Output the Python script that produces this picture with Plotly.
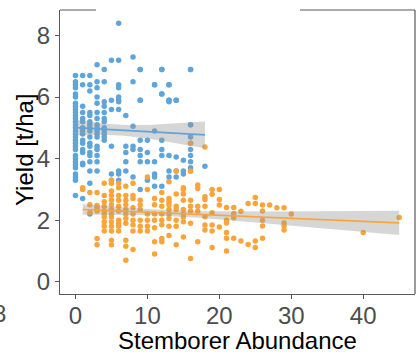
import numpy as np
import plotly.graph_objects as go

# ---- data ----
blue_cols = {
    0: [6.7, 6.5, 6.4, 6.3, 6.1, 6.0, 5.8, 5.7, 5.6, 5.5, 5.4, 5.3, 5.2, 5.1, 5.0, 4.9, 4.8, 4.7, 4.6, 4.5, 4.4, 4.3, 4.1, 4.0, 3.9, 3.8, 3.7, 3.5, 3.4, 3.3, 2.8],
    1: [6.7, 6.4, 5.7, 5.5, 5.3, 5.2, 5.0, 4.9, 4.8, 4.6, 4.5, 4.3, 4.2, 3.85, 3.8, 2.7],
    2: [6.7, 6.4, 6.2, 5.5, 5.4, 5.2, 5.1, 5.0, 4.9, 4.7, 4.5, 4.4, 4.2, 4.1, 3.9, 3.6, 3.2, 2.2],
    3: [7.05, 6.5, 6.3, 6.0, 5.8, 5.5, 5.3, 5.1, 5.0, 4.9, 4.8, 4.7, 4.4, 4.3, 4.1, 3.9, 3.6],
    4: [6.9, 6.5, 5.85, 5.7, 5.5, 5.3, 5.2, 5.0, 4.9, 4.8, 4.7, 4.6],
    5: [7.2, 5.9, 5.6, 4.4, 3.5, 3.3],
    6: [8.4, 7.2, 6.4, 6.3, 6.0, 5.9, 5.85, 5.6, 3.6, 3.5, 3.3],
    7: [5.4, 4.4, 4.2, 3.9, 3.6],
    8: [7.3, 6.5, 5.05, 4.4, 4.3, 3.4],
    9: [6.9, 6.9, 5.9, 5.9, 4.6, 4.3, 4.1, 3.9, 3.0],
    10: [4.6, 4.2, 3.9, 3.3],
    11: [6.4, 6.4, 4.9, 3.9, 3.5, 3.4, 3.1],
    12: [6.9, 6.9, 6.1, 6.1, 4.6, 4.3, 4.1, 3.1],
    13: [6.4, 6.4, 5.9, 5.9, 5.85, 4.1, 3.6, 3.4],
    14: [5.9, 5.9, 4.05, 3.6, 3.4],
    15: [3.95, 3.6, 3.5],
    16: [6.9, 6.9, 5.1, 5.1, 4.7, 4.5, 4.3, 4.1, 3.9, 3.7, 3.6],
    18: [3.75],
}
orange_cols = {
    1: [3.05, 3.0],
    2: [2.9, 2.5, 2.25],
    3: [2.9, 2.48, 2.4, 2.3, 1.4, 1.2],
    4: [3.2, 2.8, 2.6, 2.45, 2.3, 2.2, 2.1, 1.95, 1.8, 1.65],
    5: [3.3, 3.2, 2.95, 2.8, 2.65, 2.5, 2.35, 2.2, 2.1, 1.95, 1.8, 1.65, 1.35, 1.2],
    6: [3.2, 3.05, 2.8, 2.65, 2.45, 2.3, 2.0, 1.9, 1.8, 1.65],
    7: [3.1, 2.8, 2.65, 2.5, 2.35, 2.2, 2.05, 1.9, 1.35, 1.15, 0.7],
    8: [3.2, 2.8, 2.7, 2.4, 2.2, 2.0, 1.85, 1.65, 1.05],
    9: [2.65, 2.5, 2.35, 2.0, 1.8, 1.65],
    10: [3.4, 3.0, 2.2, 2.0, 1.8, 1.65],
    11: [2.7, 2.5, 2.2, 2.0, 1.75, 1.3, 0.9],
    12: [2.9, 2.65, 2.45, 2.2, 2.0, 1.85, 1.4, 1.3],
    13: [3.25, 2.7, 2.6, 2.5, 2.35, 2.2, 2.05, 1.8, 1.5],
    14: [3.6, 2.85, 2.45, 2.35, 2.0, 1.8, 1.2],
    15: [3.05, 3.0, 2.85, 2.65, 2.35, 2.2, 2.1, 1.95, 1.45],
    16: [4.5, 3.6, 2.65, 2.45, 2.3, 1.9, 0.75],
    17: [3.14, 3.03, 2.45, 2.3, 1.3],
    18: [4.38, 2.76, 2.67, 2.45, 2.11, 1.84, 1.68],
    19: [3.0, 2.84, 2.24, 1.84, 1.65, 1.11],
    20: [3.0, 2.67, 2.49, 1.78],
    21: [2.41, 2.0, 1.91, 1.6, 1.41, 1.0],
    22: [2.41, 2.22, 2.08, 1.41],
    23: [2.29, 1.32],
    24: [2.54, 1.21],
    25: [2.74, 2.54, 1.32, 1.11],
    26: [2.49, 2.3, 2.0, 1.81, 1.41],
    27: [2.49],
    28: [2.4],
    29: [2.4, 1.91, 1.81, 1.68],
    30: [2.2],
    40: [1.6],
    45: [2.09],
}
x_ticks = [0, 10, 20, 30, 40]
y_ticks = [0, 2, 4, 6, 8]
x_title = "Stemborer Abundance"
y_title = "Yield [t/ha]"

BLUE = "#5DA5DA"
ORANGE = "#FAA43A"
AXIS = "#595959"
TICKFONT = "#4D4D4D"


def flatten(cols):
    xs, ys = [], []
    for k, v in cols.items():
        xs += [k] * len(v)
        ys += v
    return np.array(xs, float), np.array(ys, float)


def lm_band(x, y, npts=80):
    n = len(x)
    xm = x.mean()
    sxx = ((x - xm) ** 2).sum()
    b = ((x - xm) * (y - y.mean())).sum() / sxx
    a = y.mean() - b * xm
    res = y - (a + b * x)
    s = np.sqrt((res ** 2).sum() / (n - 2))
    xs = np.linspace(x.min(), x.max(), npts)
    fit = a + b * xs
    se = s * np.sqrt(1.0 / n + (xs - xm) ** 2 / sxx)
    t = 1.97
    return xs, fit, fit - t * se, fit + t * se


fig = go.Figure()
for cols, col in [(blue_cols, BLUE), (orange_cols, ORANGE)]:
    x, y = flatten(cols)
    fig.add_trace(go.Scatter(x=x, y=y, mode="markers",
                             marker=dict(color=col, size=5.5, line=dict(width=0)),
                             showlegend=False, hoverinfo="skip"))
for cols, col in [(blue_cols, BLUE), (orange_cols, ORANGE)]:
    x, y = flatten(cols)
    xs, fit, lo, hi = lm_band(x, y)
    fig.add_trace(go.Scatter(x=np.concatenate([xs, xs[::-1]]),
                             y=np.concatenate([hi, lo[::-1]]),
                             fill="toself", fillcolor="rgba(153,153,153,0.4)",
                             line=dict(width=0), mode="lines",
                             showlegend=False, hoverinfo="skip"))
    fig.add_trace(go.Scatter(x=xs, y=fit, mode="lines",
                             line=dict(color=col, width=1.6),
                             showlegend=False, hoverinfo="skip"))

L, R, T, B = 60, 4, 10, 66
W, H = 419, 360
pw = W - L - R
ph = H - T - B


def px2paper_x(px):
    return (px - L) / pw


def py2paper_y(py):
    return (H - B - py) / ph


fig.update_layout(
    width=W, height=H,
    margin=dict(l=L, r=R, t=T, b=B),
    paper_bgcolor="white", plot_bgcolor="white",
    font=dict(family="Liberation Sans, Arial, sans-serif"),
    xaxis=dict(range=[-2.15, 47.2], tickvals=x_ticks, ticks="outside", ticklen=4,
               tickcolor=AXIS, showline=True, linecolor=AXIS, linewidth=1.2,
               showgrid=False, zeroline=False, ticklabelstandoff=-4,
               tickfont=dict(size=24, color=TICKFONT)),
    yaxis=dict(range=[-0.4, 8.83], tickvals=y_ticks, ticks="outside", ticklen=4,
               tickcolor=AXIS, showline=True, linecolor=AXIS, linewidth=1.2,
               showgrid=False, zeroline=False,
               tickfont=dict(size=24, color=TICKFONT)),
)

# axis titles
fig.add_annotation(xref="paper", yref="paper", x=px2paper_x(237), y=py2paper_y(340),
                   xanchor="center", yanchor="middle", text=x_title, showarrow=False,
                   font=dict(size=24, color="black"))
fig.add_annotation(xref="paper", yref="paper", x=px2paper_x(24), y=py2paper_y(150),
                   xanchor="center", yanchor="middle", text=y_title, showarrow=False,
                   textangle=-90, font=dict(size=24, color="black"))

# panel border pieces (top has a gap, right full height)
fig.add_shape(type="line", xref="paper", yref="paper", x0=0, x1=px2paper_x(96), y0=1, y1=1,
              line=dict(color=AXIS, width=1.2))
fig.add_shape(type="line", xref="paper", yref="paper", x0=px2paper_x(300), x1=1, y0=1, y1=1,
              line=dict(color=AXIS, width=1.2))
fig.add_shape(type="line", xref="paper", yref="paper", x0=1, x1=1, y0=0, y1=1,
              line=dict(color=AXIS, width=1.2))

# clipped label at far left edge
fig.add_annotation(xref="paper", yref="paper", x=px2paper_x(8), y=py2paper_y(313),
                   xanchor="right", yanchor="middle", text="8", showarrow=False,
                   font=dict(size=24, color=TICKFONT))

fig.write_html("out.html")
